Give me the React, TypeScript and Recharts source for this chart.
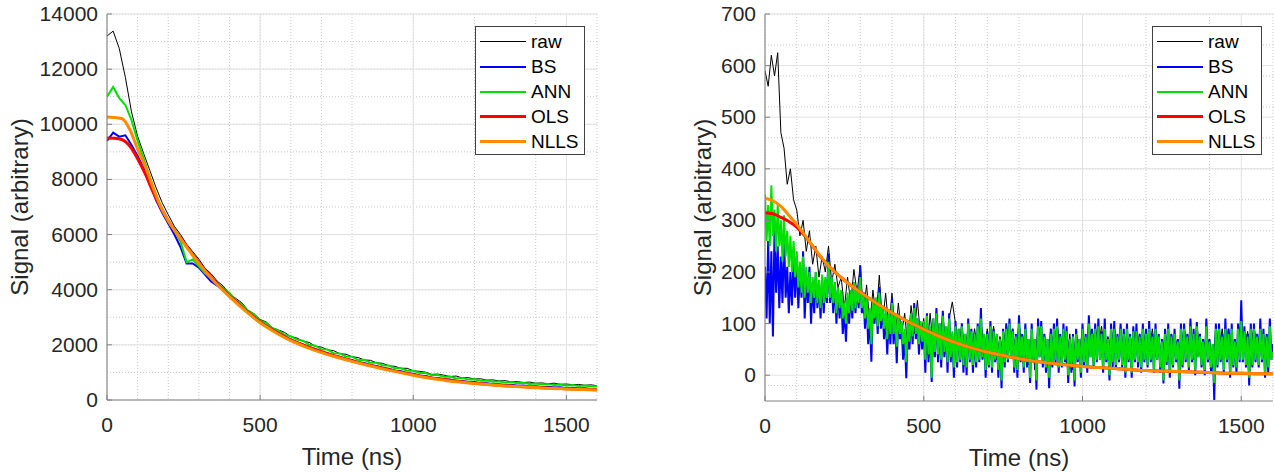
import { LineChart, Line, XAxis, YAxis, CartesianGrid } from "recharts"

const FONT = '"Liberation Sans", Arial, Helvetica, sans-serif'
const TXT = "#262626"
const AXIS = "#808080"

// series look (legend order)
const seriesNames = ["raw", "BS", "ANN", "OLS", "NLLS"]
const seriesColors = ["#000000", "#0000ff", "#00e000", "#ff0000", "#ff8c00"]
const seriesWidths = [1, 2, 2, 3, 3]

// tick labels
const timeTicks = [0, 500, 1000, 1500]
const leftTicks = [0, 2000, 4000, 6000, 8000, 10000, 12000, 14000]
const rightTicks = [0, 100, 200, 300, 400, 500, 600, 700]

// fitted curves are sampled at these times (ns)
const fitTimes = [0, 25, 50, 75, 100, 125, 150, 175, 200, 250, 300, 350, 400, 450, 500, 550, 600, 650, 700, 750, 800, 850, 900, 950, 1000, 1050, 1100, 1150, 1200, 1250, 1300, 1350, 1400, 1450, 1500, 1550, 1600]

// ---- left panel ----
const leftOLS = [9500, 9490, 9440, 9200, 8750, 8200, 7560, 7000, 6500, 5720, 4980, 4330, 3780, 3280, 2830, 2480, 2180, 1950, 1750, 1580, 1420, 1280, 1150, 1030, 920, 820, 740, 670, 610, 560, 520, 490, 460, 430, 410, 390, 370]
const leftNLLS = [10260, 10250, 10200, 9800, 9100, 8480, 7720, 7020, 6500, 5700, 4950, 4300, 3750, 3250, 2800, 2450, 2150, 1920, 1720, 1550, 1400, 1260, 1130, 1010, 900, 800, 720, 650, 600, 550, 510, 480, 450, 420, 400, 380, 360]

// noisy traces, one value every 20 ns
const leftRaw = [
  13200, 13380, 12750, 11700, 10450, 9560, 8930, 8320, 7710, 7160,
  6720, 6300, 6000, 5650, 5380, 5110, 4780, 4580, 4310, 4130,
  3850, 3690, 3530, 3260, 3130, 2920, 2830, 2620, 2540, 2450,
  2300, 2250, 2130, 2090, 1950, 1920, 1820, 1790, 1680, 1660,
  1570, 1540, 1450, 1440, 1350, 1330, 1240, 1220, 1150, 1150,
  1060, 1040, 1010, 930, 940, 900, 850, 870, 800, 810,
  760, 770, 720, 730, 690, 700, 660, 665, 635, 650,
  610, 620, 590, 610, 570, 580, 555, 565, 535, 550,
  520,
]
const leftBS = [
  9400, 9700, 9550, 9600, 9250, 8850, 8400, 7850, 7250, 6800,
  6400, 6000, 5550, 4950, 4950, 4800, 4550, 4300, 4150, 4000,
  3800, 3580, 3400, 3180, 3020, 2830, 2710, 2550, 2440, 2300,
  2200, 2090, 2020, 1910, 1850, 1750, 1700, 1610, 1570, 1490,
  1450, 1370, 1340, 1260, 1230, 1160, 1130, 1060, 1040, 970,
  950, 890, 870, 810, 800, 750, 740, 690, 690, 650,
  650, 610, 610, 570, 575, 540, 550, 515, 525, 490,
  500, 470, 480, 450, 460, 430, 445, 415, 425, 400,
  410,
]
const leftANN = [
  11000, 11350, 10950, 10700, 10150, 9400, 8750, 8080, 7450, 6920,
  6480, 6150, 5750, 5000, 5100, 4850, 4600, 4420, 4200, 4060,
  3880, 3620, 3470, 3230, 3110, 2880, 2790, 2600, 2520, 2360,
  2310, 2190, 2150, 2000, 1970, 1840, 1830, 1700, 1690, 1580,
  1570, 1450, 1460, 1350, 1350, 1250, 1250, 1150, 1150, 1060,
  1060, 980, 980, 900, 910, 840, 850, 780, 800, 740,
  750, 700, 710, 660, 675, 630, 650, 605, 625, 580,
  600, 560, 580, 540, 560, 520, 545, 505, 525, 490,
  510,
]

// ---- right panel ----
const rightOLS = [315, 313, 306, 298, 287, 270, 250, 229, 212, 184, 161, 140, 121, 104, 89, 75, 63, 53, 45, 38, 32, 27, 23, 20, 17, 15, 13, 11, 9, 8, 7, 6, 5, 4, 4, 3, 3]
const rightNLLS = [343, 338, 327, 310, 292, 272, 251, 230, 212, 184, 161, 140, 121, 104, 89, 75, 63, 53, 45, 38, 32, 27, 23, 20, 17, 15, 13, 11, 9, 8, 7, 6, 5, 4, 4, 3, 3]

// raw trace, one value every 10 ns
const rightRaw = [
  590, 560, 620, 580, 625, 470, 440, 370, 400, 340,
  320, 270, 300, 240, 280, 215, 250, 190, 230, 200,
  250, 180, 215, 170, 190, 130, 190, 140, 205, 160,
  213, 120, 175, 100, 165, 110, 194, 100, 159, 90,
  159, 70, 140, 80, 120, 50, 135, 80, 145, 75,
  110, 40, 120, 55, 125, 60, 120, 50, 110, 142,
  100, 45, 100, 40, 95, 45, 90, 50, 110, 40,
  90, 40, 95, 30, 75, 45, 100, 50, 90, 35,
  105, 40, 95, 20, 75, 10, 100, 50, 80, 20,
  90, 40, 100, 45, 90, 20, 80, 10, 85, 35,
  95, 40, 105, 45, 95, 55, 95, 40, 75, 50,
  95, 50, 95, 30, 80, 30, 90, 50, 80, 50,
  85, 45, 90, 35, 75, 20, 85, 30, 80, 50,
  70, 40, 95, 45, 100, 30, 100, 40, 70, 50,
  70, 15, 95, 50, 90, 40, 90, 45, 70, 50,
  115, 45, 85, 45, 95, 50, 90, 35, 80, 50,
  60,
]
// corrected traces, one value every 5 ns (one row = 100 ns)
const rightBS = [
  210, 110, 260, 100, 240, 75, 285, 160, 250, 130, 230, 140, 270, 150, 210, 120, 200, 135, 230, 150,
  225, 130, 200, 150, 240, 110, 190, 140, 210, 100, 180, 120, 200, 130, 175, 110, 190, 120, 185, 140,
  236, 140, 190, 120, 180, 100, 170, 110, 160, 80, 130, 65, 150, 100, 160, 110, 180, 120, 170, 130,
  213, 120, 160, 90, 150, 60, 120, 26, 140, 100, 150, 80, 171, 90, 130, 70, 120, 40, 110, 60,
  150, 60, 110, 23, 120, 70, 100, 30, 80, -6, 100, 50, 120, 60, 140, 70, 110, 40, 100, 50,
  100, 5, 120, 25, 90, -13, 110, 35, 130, 25, 100, 15, 125, 35, 90, 5, 120, 25, 80, -5,
  105, 15, 90, 25, 100, 5, 80, 0, 110, 25, 90, 5, 80, 15, 100, 25, 130, 30, 80, -5,
  85, 15, 105, 5, 90, 25, 80, -5, 70, -25, 90, 15, 100, 25, 110, 35, 90, 5, 80, -5,
  116, 25, 80, 5, 100, 15, 70, -15, 100, 25, 70, -28, 110, 35, 105, 15, 80, 5, 70, -25,
  90, 15, 100, 25, 110, 5, 80, 15, 100, 25, 95, -15, 70, 5, 80, -22, 90, 25, 70, -5,
  100, 15, 80, 5, 116, 35, 90, 15, 100, 25, 110, 30, 85, 5, 110, 25, 70, -10, 100, 15,
  105, 10, 80, 25, 100, 15, 90, -5, 100, 25, 80, -5, 95, 25, 100, 15, 80, 5, 100, 25,
  90, 15, 105, 25, 80, 5, 100, 30, 80, 5, 70, -16, 90, 20, 100, -5, 80, 15, 90, 25,
  70, -26, 100, 15, 100, 25, 80, 10, 110, 25, 90, 0, 103, 35, 80, 15, 70, 0, 110, 25,
  70, 5, 60, -48, 100, 15, 100, 25, 80, 5, 110, 25, 90, -5, 100, 15, 70, 5, 100, 25,
  145, 25, 95, 15, 80, -20, 100, 15, 100, 25, 80, 15, 110, 25, 90, -5, 80, 5, 110, 30,
  60,
]
const rightANN = [
  350, 260, 330, 250, 368, 270, 320, 240, 330, 250, 300, 220, 310, 230, 280, 210, 270, 200, 260, 190,
  240, 170, 220, 160, 230, 150, 210, 160, 200, 140, 190, 150, 200, 140, 185, 130, 195, 140, 190, 150,
  220, 150, 190, 140, 180, 120, 170, 130, 165, 110, 140, 100, 160, 120, 165, 125, 180, 130, 170, 140,
  190, 130, 160, 110, 150, 90, 130, 60, 145, 110, 150, 95, 160, 105, 135, 90, 125, 70, 120, 80,
  140, 80, 115, 55, 120, 80, 105, 60, 90, 25, 105, 65, 120, 75, 130, 80, 110, 60, 105, 65,
  105, 30, 115, 40, 95, -5, 110, 45, 120, 40, 100, 30, 115, 45, 95, 25, 110, 35, 85, 15,
  95, 25, 90, 30, 95, 20, 80, 15, 100, 30, 85, 20, 80, 25, 95, 30, 110, 35, 80, 10,
  80, 20, 95, 15, 85, 30, 80, 10, 70, -10, 85, 25, 90, 30, 100, 35, 85, 15, 75, 10,
  100, 30, 75, 15, 90, 25, 70, -5, 90, 30, 70, -10, 95, 35, 95, 25, 75, 15, 70, -5,
  80, 20, 90, 30, 95, 15, 75, 20, 90, 30, 85, 0, 70, 15, 75, -10, 80, 30, 70, 5,
  90, 25, 75, 15, 100, 35, 80, 20, 90, 30, 95, 30, 80, 15, 90, 30, 70, 0, 90, 25,
  90, 20, 75, 30, 90, 20, 80, 5, 90, 30, 75, 5, 85, 30, 85, 25, 75, 15, 90, 30,
  80, 20, 90, 30, 75, 10, 90, 30, 75, 15, 65, -10, 80, 25, 90, 5, 75, 20, 80, 30,
  65, -10, 90, 20, 90, 30, 75, 15, 95, 30, 80, 10, 95, 35, 75, 20, 65, 10, 95, 30,
  65, 15, 60, -15, 90, 20, 90, 30, 75, 10, 90, 30, 80, 5, 90, 20, 65, 15, 90, 30,
  105, 30, 85, 20, 75, -5, 90, 20, 90, 30, 75, 20, 90, 30, 80, 5, 75, 15, 95, 30,
  45,
]

const sampled = (vals: number[], step: number) => vals.map((v, i) => ({ t: i * step, v }))
const atTimes = (vals: number[]) => vals.map((v, i) => ({ t: fitTimes[i], v }))

const minorTime = Array.from({ length: 17 }, (_, i) => i * 100)
const minorLeft = Array.from({ length: 29 }, (_, i) => i * 500)
const minorRight = Array.from({ length: 38 }, (_, i) => -40 + i * 20)

const XTick = ({ x, y, payload }: any) => (
  <g>
    <line x1={x} x2={x} y1={y} y2={y - 5} stroke={AXIS} />
    <text x={x} y={y + 32} textAnchor="middle" fill={TXT} fontSize={21} fontFamily={FONT}>
      {payload.value}
    </text>
  </g>
)

const YTick = ({ x, y, payload }: any) => (
  <g>
    <line x1={x} x2={x + 5} y1={y} y2={y} stroke={AXIS} />
    <text x={x - 9} y={y + 7} textAnchor="end" fill={TXT} fontSize={21} fontFamily={FONT}>
      {payload.value}
    </text>
  </g>
)

function Panel({ width, yWidth, xHeight, right, domain, yTicks, minorY, series, labelX }: any) {
  return (
    <LineChart width={width} height={473} margin={{ top: 14, right, bottom: 0, left: 0 }}>
      <CartesianGrid stroke="#c8c8c8" strokeDasharray="1 2" horizontalValues={minorY} verticalValues={minorTime} />
      <CartesianGrid stroke="#e2e2e2" horizontalValues={yTicks} verticalValues={timeTicks} />
      <XAxis
        dataKey="t"
        type="number"
        domain={[0, 1600]}
        ticks={timeTicks}
        allowDataOverflow
        height={xHeight}
        tickSize={0}
        tickMargin={0}
        tickLine={false}
        stroke={AXIS}
        tick={<XTick />}
        label={{
          content: ({ viewBox }: any) => (
            <text x={viewBox.x + viewBox.width / 2} y={viewBox.y + 65} textAnchor="middle" fill={TXT} fontSize={24} fontFamily={FONT}>
              Time (ns)
            </text>
          ),
        }}
      />
      <XAxis xAxisId="top" orientation="top" type="number" domain={[0, 1600]} ticks={timeTicks} height={0} mirror tickSize={5} stroke={AXIS} tickFormatter={() => ""} />
      <YAxis
        type="number"
        domain={domain}
        ticks={yTicks}
        allowDataOverflow
        width={yWidth}
        tickSize={0}
        tickMargin={0}
        tickLine={false}
        stroke={AXIS}
        tick={<YTick />}
        label={{
          content: ({ viewBox }: any) => {
            const cx = viewBox.x + labelX
            const cy = viewBox.y + viewBox.height / 2
            return (
              <text x={cx} y={cy} transform={`rotate(-90 ${cx} ${cy})`} textAnchor="middle" fill={TXT} fontSize={24} fontFamily={FONT}>
                Signal (arbitrary)
              </text>
            )
          },
        }}
      />
      <YAxis yAxisId="r" orientation="right" type="number" domain={domain} ticks={yTicks} allowDataOverflow width={0} mirror tickSize={5} stroke={AXIS} tickFormatter={() => ""} />
      {series.map((d: any[], i: number) => (
        <Line
          key={seriesNames[i]}
          data={d}
          dataKey="v"
          type={i >= 3 ? "monotone" : "linear"}
          stroke={seriesColors[i]}
          strokeWidth={seriesWidths[i]}
          dot={false}
          activeDot={false}
          isAnimationActive={false}
        />
      ))}
    </LineChart>
  )
}

function Legend({ left }: { left: number }) {
  return (
    <div style={{ position: "absolute", left, top: 26, width: 110, height: 129, border: "1px solid #404040", background: "#fff", boxSizing: "border-box" }}>
      {seriesNames.map((name, i) => (
        <div key={name} style={{ position: "absolute", top: 2 + i * 25, left: 0, height: 25, display: "flex", alignItems: "center" }}>
          <div style={{ marginLeft: 4, width: 46, height: seriesWidths[i], background: seriesColors[i] }} />
          <span style={{ marginLeft: 5, fontSize: 19, fontFamily: FONT, color: "#000" }}>{name}</span>
        </div>
      ))}
    </div>
  )
}

export default function App() {
  const leftSeries = [sampled(leftRaw, 20), sampled(leftBS, 20), sampled(leftANN, 20), atTimes(leftOLS), atTimes(leftNLLS)]
  const rightSeries = [sampled(rightRaw, 10), sampled(rightBS, 5), sampled(rightANN, 5), atTimes(rightOLS), atTimes(rightNLLS)]
  return (
    <div style={{ position: "absolute", left: 0, top: 0, width: 1274, height: 473, background: "#fff", overflow: "hidden" }}>
      <div style={{ position: "absolute", left: 0, top: 0 }}>
        <Panel width={620} yWidth={107} xHeight={73} right={23} domain={[0, 14000]} yTicks={leftTicks} minorY={minorLeft} series={leftSeries} labelX={28} />
      </div>
      <div style={{ position: "absolute", left: 637, top: 0 }}>
        <Panel width={637} yWidth={128} xHeight={72} right={1} domain={[-50, 700]} yTicks={rightTicks} minorY={minorRight} series={rightSeries} labelX={74} />
      </div>
      <Legend left={475} />
      <Legend left={1152} />
    </div>
  )
}
